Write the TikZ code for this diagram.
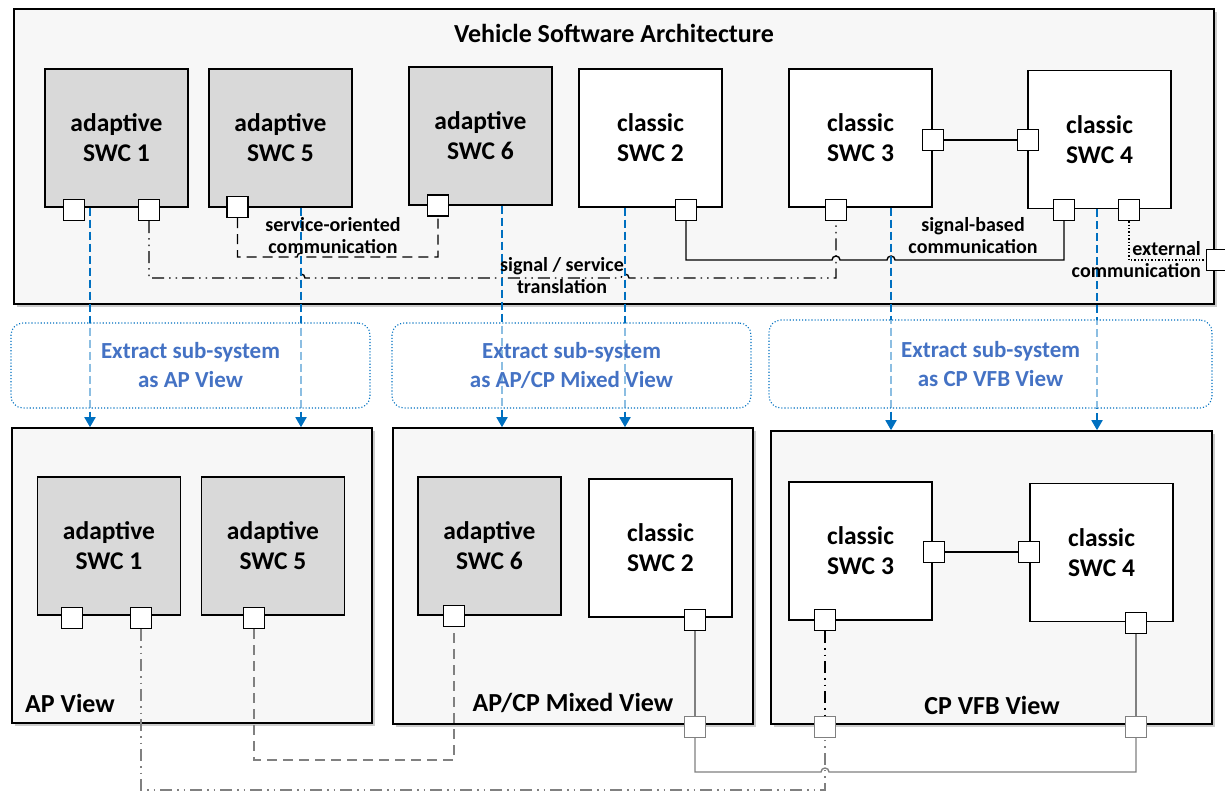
\documentclass[tikz,border=0pt]{standalone}
\usepackage{fontspec}
\setmainfont{Carlito}
\usetikzlibrary{arrows.meta,shadows}
\definecolor{grisSWC}{HTML}{D9D9D9}
\definecolor{bleuFleche}{HTML}{0070C0}
\definecolor{bleuTexte}{HTML}{4472C4}
\definecolor{grisLien}{HTML}{808080}
\begin{document}
\begin{tikzpicture}[x=1pt,y=-1pt]
% Styles
\tikzstyle{cadre}=[draw,line width=1.6pt,fill=black!3,inner sep=0,drop shadow={shadow xshift=3pt,shadow yshift=-3pt,opacity=.4}]
\tikzstyle{adaptatif}=[draw,line width=1.4pt,fill=grisSWC,minimum width=143pt,minimum height=138pt,inner sep=0,align=center,font=\fontsize{25.5}{30}\selectfont\bfseries]
\tikzstyle{classique}=[adaptatif,fill=white]
\tikzstyle{port}=[draw,line width=1.3pt,fill=white,minimum size=21pt,inner sep=0]
\tikzstyle{portgris}=[port,draw=grisLien]
\tikzstyle{titre}=[font=\fontsize{26}{30}\selectfont\bfseries,inner sep=0]
\tikzstyle{etiquette}=[font=\fontsize{20}{22}\selectfont\bfseries,align=center,inner sep=0]
\tikzstyle{extraction}=[draw=bleuFleche,dotted,line width=1.1pt,rounded corners=12pt,fill=white,fill opacity=.55,text opacity=1,text=bleuTexte,align=center,font=\fontsize{23}{29}\selectfont\bfseries,inner sep=0]
\tikzstyle{fleche}=[->,>={Triangle[width=11pt,length=10pt]},dash pattern=on 8pt off 4pt,line width=1.8pt,draw=bleuFleche]
\tikzstyle{lien}=[line width=1.4pt]
\tikzstyle{soa}=[lien,dash pattern=on 10pt off 6pt]
\tikzstyle{traduction}=[lien,dash pattern=on 12pt off 5pt on 1.5pt off 5pt on 1.5pt off 5pt]
\tikzstyle{externe}=[lien,dotted]
\useasboundingbox (0,0) rectangle (1225,792);
% Cadres
\node[cadre,minimum width=1200pt,minimum height=295pt] (VSA) at (614,156.5) {};
\node[cadre,minimum width=360pt,minimum height=295pt] (VueAP) at (192,575.5) {};
\node[cadre,minimum width=360pt,minimum height=296pt] (VueMix) at (573,576) {};
\node[cadre,minimum width=441pt,minimum height=293pt] (VueCP) at (991.5,577.5) {};
\node[titre] (tVSA) at (614,33) {Vehicle Software Architecture};
\node[titre,anchor=west] (tAP) at (25,703) {AP View};
\node[titre] (tMix) at (573,703) {AP/CP Mixed View};
\node[titre] (tCP) at (992,705) {CP VFB View};
% Composants (architecture complete)
\node[adaptatif] (A1) at (116.5,138) {adaptive\\SWC 1};
\node[adaptatif] (A5) at (280.5,138) {adaptive\\SWC 5};
\node[adaptatif] (A6) at (480.5,136) {adaptive\\SWC 6};
\node[classique] (C2) at (650.5,138) {classic\\SWC 2};
\node[classique] (C3) at (860.5,138) {classic\\SWC 3};
\node[classique] (C4) at (1099.5,139.5) {classic\\SWC 4};
% Composants (vues)
\node[adaptatif] (bA1) at (109,546) {adaptive\\SWC 1};
\node[adaptatif] (bA5) at (273,546) {adaptive\\SWC 5};
\node[adaptatif] (bA6) at (489.5,546) {adaptive\\SWC 6};
\node[classique] (bC2) at (660.5,548) {classic\\SWC 2};
\node[classique] (bC3) at (860.5,551) {classic\\SWC 3};
\node[classique] (bC4) at (1101.5,552.5) {classic\\SWC 4};
% Ports
\node[port] (P1a) at (74,210) {};
\node[port] (P1b) at (149,210) {};
\node[port] (P5) at (237.5,207) {};
\node[port] (P6) at (438,205.5) {};
\node[port] (P2) at (686,210) {};
\node[port] (P3b) at (836,210) {};
\node[port] (P3r) at (933,140) {};
\node[port] (P4l) at (1028,140) {};
\node[port] (P4a) at (1064,210) {};
\node[port] (P4b) at (1129,210) {};
\node[port] (Pext) at (1217,260) {};
\node[port] (bP1a) at (72,618) {};
\node[port] (bP1b) at (141,618) {};
\node[port] (bP5) at (254,618) {};
\node[port] (bP6) at (454,616) {};
\node[port] (bP2) at (695,620) {};
\node[port] (bP3b) at (825,620) {};
\node[port] (bP3r) at (934,552) {};
\node[port] (bP4l) at (1029,552) {};
\node[port] (bP4) at (1136,623) {};
\node[portgris] (Q2) at (695,727) {};
\node[portgris] (Q3) at (825,727) {};
\node[portgris] (Q4) at (1136,727) {};
% Liaisons (architecture complete)
\draw[soa] (P5.south) |- (297,257) arc[start angle=180,end angle=0,radius=4pt] -| (P6.south);
\draw[traduction] (P1b.south) |- (297,278) arc[start angle=180,end angle=0,radius=4pt] -- (621,278) arc[start angle=180,end angle=0,radius=4pt] -| (P3b.south);
\draw[lien] (P2.south) |- (832,260) arc[start angle=180,end angle=0,radius=4pt] -- (887,260) arc[start angle=180,end angle=0,radius=4pt] -| (P4a.south);
\draw[externe] (P4b.south) |- (Pext.west);
\draw[lien] (P3r) -- (P4l);
% Liaisons (vues)
\draw[traduction,draw=grisLien] (bP1b.south) -- (bP1b.south |- 0,790) -| (Q3.south);
\draw[soa,draw=grisLien] (bP5.south) -- (bP5.south |- 0,760) -| (bP6.south);
\draw[lien,draw=grisLien] (bP2.south) -- (Q2.north);
\draw[lien,draw=grisLien] (Q2.south) |- (821,772) arc[start angle=180,end angle=0,radius=4pt] -| (Q4.south);
\draw[lien,draw=grisLien] (Q4.north) -- (bP4.south);
\draw[traduction] (bP3b.south) -- (Q3.north);
\draw[lien] (bP3r) -- (bP4l);
% Extraction
\draw[fleche] (A1.south -| 90,0) -- (VueAP.north -| 90,0);
\draw[fleche] (A5.south -| 301,0) -- (VueAP.north -| 301,0);
\draw[fleche] (A6.south -| 502,0) -- (VueMix.north -| 502,0);
\draw[fleche] (C2.south -| 625,0) -- (VueMix.north -| 625,0);
\draw[fleche] (C3.south -| 891,0) -- (VueCP.north -| 891,0);
\draw[fleche] (C4.south -| 1097,0) -- (VueCP.north -| 1097,0);
\node[extraction,minimum width=359pt,minimum height=85pt] (E1) at (190.5,365.5) {Extract sub-system\\as AP View};
\node[extraction,minimum width=359pt,minimum height=85pt] (E2) at (571.5,365.5) {Extract sub-system\\as AP/CP Mixed View};
\node[extraction,minimum width=443pt,minimum height=88pt] (E3) at (990.5,364) {Extract sub-system\\as CP VFB View};
% Etiquettes
\node[etiquette] (lSOA) at (333,236) {service-oriented\\communication};
\node[etiquette] (lTrad) at (562,276) {signal / service\\translation};
\node[etiquette] (lSig) at (973,236) {signal-based\\communication};
\node[etiquette,align=right,anchor=east] (lExt) at (1201,260) {external\\communication};
\end{tikzpicture}
\end{document}
